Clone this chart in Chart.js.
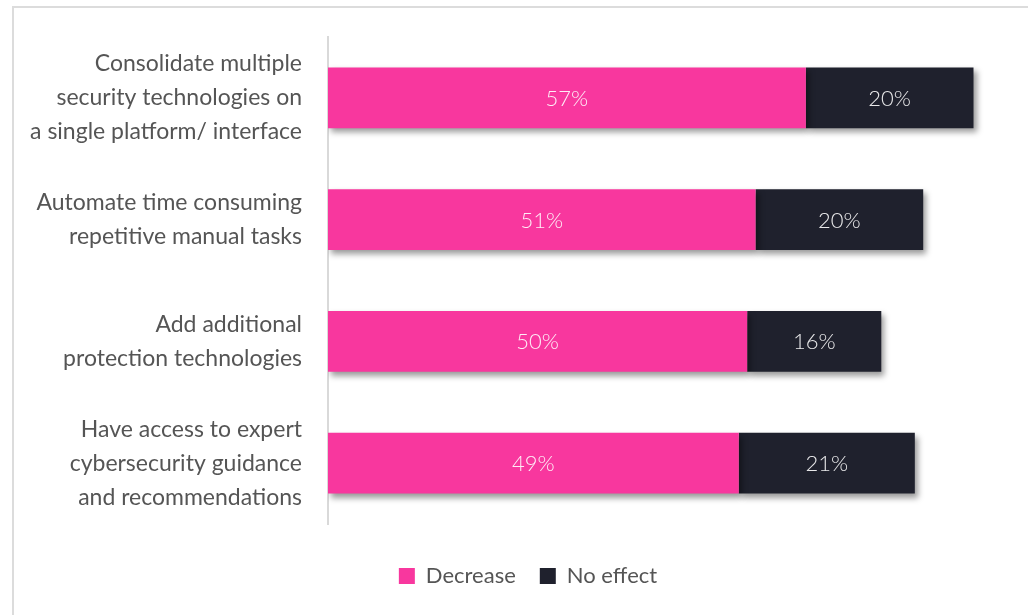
<!DOCTYPE html>
<html>
<head>
<meta charset="utf-8">
<script src="https://cdn.jsdelivr.net/npm/chart.js@4"></script>
<style>
  html, body { margin: 0; padding: 0; background: #fff; }
  #wrap { position: relative; width: 1028px; height: 615px; overflow: hidden; }
  #frame { position: absolute; left: 12px; top: 6px; width: 1100px; height: 700px;
           border-top: 2px solid #dcdcdc; border-left: 2px solid #dcdcdc; }
  canvas { position: absolute; left: 0; top: 0; }
</style>
</head>
<body>
<div id="wrap">
  <div id="frame"></div>
  <canvas id="chart" width="1028" height="615"></canvas>
</div>
<script>
// --- DATA ---
const categories = [
    ['Consolidate multiple', 'security technologies on', 'a single platform/ interface'],
    ['Automate time consuming', 'repetitive manual tasks'],
    ['Add additional', 'protection technologies'],
    ['Have access to expert', 'cybersecurity guidance', 'and recommendations']
];
const decreaseValues = [57, 51, 50, 49];
const noEffectValues = [20, 20, 16, 21];
const seriesNames = ['Decrease', 'No effect'];

const PINK = '#F8379E';
const DARK = '#1F212D';
const FONT = 'Lato';

// Drop shadow under the bars
const barShadow = {
    id: 'barShadow',
    beforeDatasetDraw(chart) {
        const ctx = chart.ctx;
        ctx.save();
        ctx.shadowColor = 'rgba(0,0,0,0.4)';
        ctx.shadowBlur = 6;
        ctx.shadowOffsetX = 3;
        ctx.shadowOffsetY = 4;
    },
    afterDatasetDraw(chart) {
        chart.ctx.restore();
    }
};

// Value labels in the middle of each segment
const barLabels = {
    id: 'barLabels',
    afterDatasetsDraw(chart) {
        const ctx = chart.ctx;
        ctx.save();
        ctx.font = `300 22px ${FONT}`;
        ctx.textAlign = 'center';
        ctx.textBaseline = 'middle';
        ctx.fillStyle = 'rgba(255,255,255,0.9)';
        chart.data.datasets.forEach((ds, i) => {
            const meta = chart.getDatasetMeta(i);
            meta.data.forEach((bar, j) => {
                const p = bar.getProps(['x', 'y', 'base'], true);
                ctx.fillText(ds.data[j] + '%', (p.x + p.base) / 2, p.y + 1);
            });
        });
        ctx.restore();
    }
};

new Chart(document.getElementById('chart'), {
    type: 'bar',
    data: {
        labels: categories,
        datasets: [
            { label: seriesNames[0], data: decreaseValues, backgroundColor: PINK },
            { label: seriesNames[1], data: noEffectValues, backgroundColor: DARK }
        ]
    },
    options: {
        indexAxis: 'y',
        responsive: false,
        animation: false,
        barPercentage: 1,
        categoryPercentage: 0.5,
        layout: { padding: { top: 37, right: 0, bottom: 18, left: 28 } },
        scales: {
            x: {
                stacked: true,
                display: false,
                min: 0,
                max: 83.5
            },
            y: {
                stacked: true,
                grid: { display: false, drawTicks: false },
                border: { display: true, color: '#d9d9d9', width: 2 },
                ticks: {
                    padding: 26,
                    color: '#555',
                    font: { family: FONT, size: 23, lineHeight: 1.48 }
                },
                afterFit: (scale) => {
                    scale.width = 300;
                    scale.paddingTop = 0;
                    scale.paddingBottom = 0;
                }
            }
        },
        plugins: {
            legend: {
                position: 'bottom',
                // empty title used only as spacing above the legend items
                title: { display: true, text: ' ', font: { size: 10, lineHeight: 1 }, padding: { top: 7, bottom: 0 } },
                labels: {
                    boxWidth: 16,
                    boxHeight: 16,
                    padding: 24,
                    color: '#555',
                    font: { family: FONT, size: 22 }
                }
            },
            tooltip: { enabled: false }
        }
    },
    plugins: [barShadow, barLabels]
});
</script>
</body>
</html>
